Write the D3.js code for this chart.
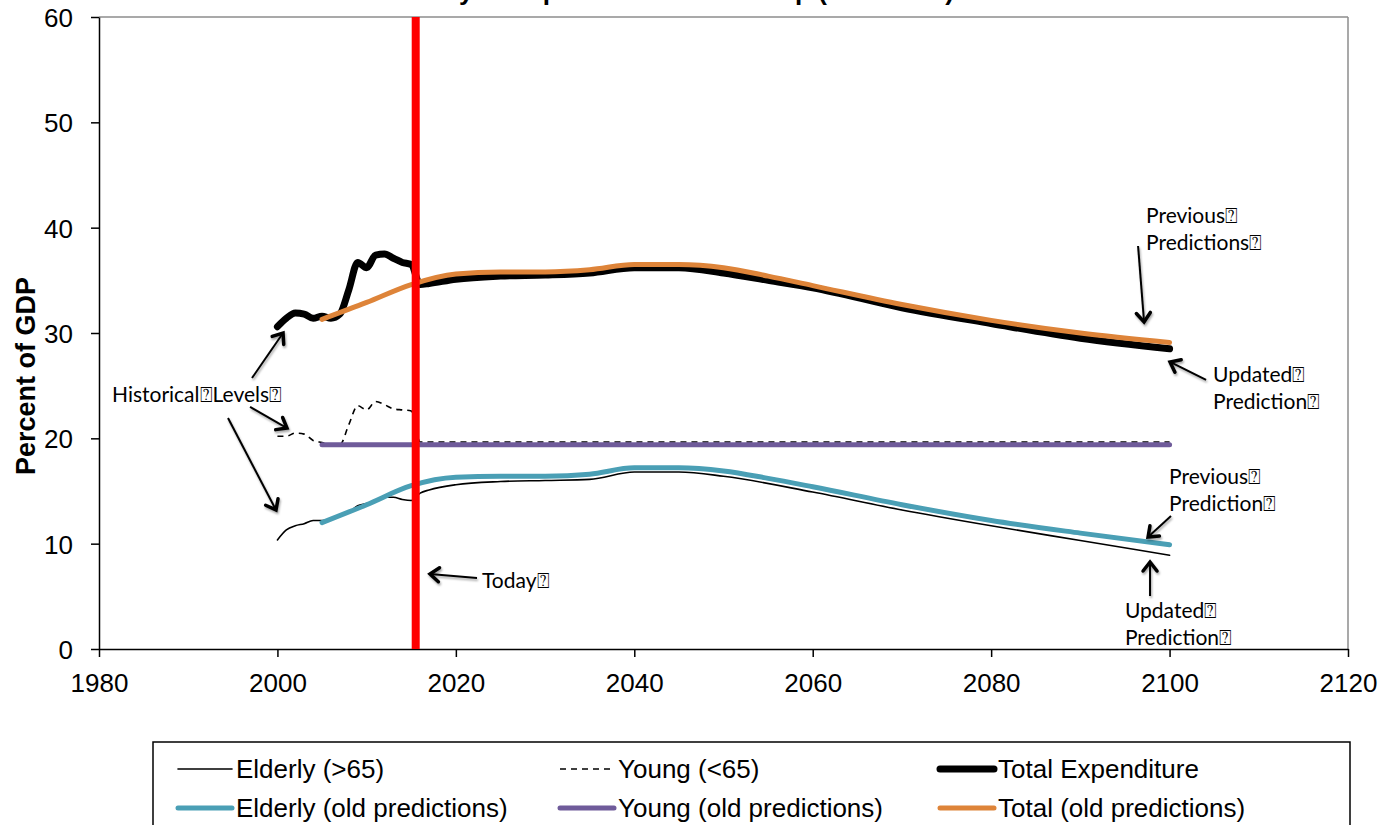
<!DOCTYPE html>
<html><head><meta charset="utf-8">
<script src="https://cdn.jsdelivr.net/npm/d3@7"></script>
<style>
html,body{margin:0;padding:0;background:#fff;}
svg{display:block;}
</style></head>
<body><svg id="c" width="1387" height="825"></svg>
<script>
// ---------- data ----------
const elderlyYears = [2000,2001,2002,2003,2004,2005,2006,2007,2008,2009,2010,2011,2012,2013,2014,2015,2016,2017,2020,2025,2030,2035,2040,2045,2050,2060,2070,2080,2090,2100];
const elderlyValues = [10.35,11.3,11.7,11.9,12.2,12.2,12.3,12.7,13.0,13.6,13.8,14.1,14.4,14.4,14.2,14.1,14.8,15.1,15.6,15.9,16.0,16.1,16.8,16.8,16.4,14.9,13.2,11.7,10.3,8.9];

const youngYears = [2000,2001,2002,2003,2004,2005,2006,2007,2008,2009,2010,2011,2012,2013,2014,2015,2016,2030,2050,2070,2100];
const youngValues = [20.2,20.2,20.5,20.4,19.8,19.6,19.4,19.4,21.3,23.1,22.7,23.5,23.2,22.8,22.7,22.6,19.65,19.65,19.65,19.65,19.65];

const totalYears = [2000,2001,2002,2003,2004,2005,2006,2007,2008,2009,2010,2011,2012,2013,2014,2015,2016,2017,2020,2025,2030,2035,2040,2045,2050,2055,2060,2070,2080,2090,2100];
const totalValues = [30.6,31.4,31.9,31.8,31.4,31.6,31.4,31.8,34.1,36.7,36.2,37.4,37.5,37.1,36.7,36.5,34.6,34.7,35.1,35.4,35.5,35.7,36.2,36.2,35.7,35.0,34.3,32.4,30.9,29.5,28.5];

const oldYears = [2005,2010,2015,2020,2025,2030,2035,2040,2045,2050,2055,2060,2070,2080,2090,2100];
const elderlyOldValues = [12.0,13.7,15.5,16.3,16.4,16.4,16.6,17.2,17.2,16.9,16.2,15.4,13.7,12.2,11.0,9.9];
const youngOldValues = [19.4,19.4,19.4,19.4,19.4,19.4,19.4,19.4,19.4,19.4,19.4,19.4,19.4,19.4,19.4,19.4];
const totalOldValues = [31.3,32.9,34.6,35.6,35.8,35.8,36.0,36.5,36.5,36.2,35.4,34.5,32.7,31.2,30.0,29.1];

const todayYear = 2015.5;
const todayRange = [0, 60];

const xTicks = [1980,2000,2020,2040,2060,2080,2100,2120];
const yTicks = [0,10,20,30,40,50,60];

const legendLabels = ["Elderly (>65)","Young (<65)","Total Expenditure","Elderly (old predictions)","Young (old predictions)","Total (old predictions)"];

const titleText = "Elderly Group and the Total Group (% of GDP)";
const yAxisTitle = "Percent of GDP";

const B = "\u2370"; // missing-glyph box as shown in the original
const annotTexts = [
  {t:["Historical"+B+"Levels"+B], x:1981.46, y:23.45},
  {t:["Today"+B], x:2022.93, y:5.79},
  {t:["Previous"+B,"Predictions"+B], x:2097.36, y:40.44},
  {t:["Updated"+B,"Prediction"+B], x:2104.87, y:25.35},
  {t:["Previous"+B,"Prediction"+B], x:2099.94, y:15.66},
  {t:["Updated"+B,"Prediction"+B], x:2095.0, y:2.95}
];
const annotArrows = [
  [[1997.15,25.73],[2000.63,30.0]],
  [[1996.93,22.98],[2001.07,20.98]],
  [[1994.46,21.93],[1999.84,13.2]],
  [[2022.37,6.74],[2017.1,7.12]],
  [[2096.47,38.26],[2097.14,31.05]],
  [[2104.09,25.54],[2100.05,27.25]],
  [[2100.16,12.63],[2097.59,10.63]],
  [[2097.81,5.03],[2097.81,8.26]]
];

// ---------- layout ----------
const svg = d3.select("#c");
const L = 99, R = 1348, T = 17, Bm = 649;
const x = d3.scaleLinear().domain([1980,2120]).range([L,R]);
const y = d3.scaleLinear().domain([0,60]).range([Bm,T]);
const AX = "'Liberation Sans', Arial, sans-serif";
const AN = "Lato, 'Open Sans', sans-serif";

// title (cut off at the top in the original)
svg.append("text").attr("x",954).attr("y",-0.5).attr("text-anchor","end")
  .attr("font-family",AX).attr("font-weight","bold").attr("font-size",26).text(titleText);

// frame
svg.append("line").attr("x1",L).attr("x2",R).attr("y1",T).attr("y2",T).attr("stroke","#8c8c8c").attr("stroke-width",1.5);
svg.append("line").attr("x1",R).attr("x2",R).attr("y1",T).attr("y2",Bm).attr("stroke","#8c8c8c").attr("stroke-width",1.5);

// axes
const gx = svg.append("g").attr("transform",`translate(0,${Bm})`)
  .call(d3.axisBottom(x).tickValues(xTicks).tickFormat(d3.format("d")).tickSize(8).tickPadding(10).tickSizeOuter(0));
const gy = svg.append("g").attr("transform",`translate(${L},0)`)
  .call(d3.axisLeft(y).tickValues(yTicks).tickSize(8).tickPadding(18).tickSizeOuter(0));
[gx,gy].forEach(g=>{
  g.selectAll("path,line").attr("stroke","#000").attr("stroke-width",1.5);
  g.selectAll("text").attr("font-family",AX).attr("font-size",26).attr("fill","#000");
});
gx.selectAll("text").attr("dy","0.95em");
gy.selectAll("text").attr("dy","0.36em");

svg.append("text").attr("transform",`translate(35,376) rotate(-90)`).attr("text-anchor","middle")
  .attr("font-family",AX).attr("font-weight","bold").attr("font-size",27).text(yAxisTitle);

// lines
const mk = (xs, vs) => xs.map((d,i)=>[d, vs[i]]);
const line = d3.line().x(d=>x(d[0])).y(d=>y(d[1])).curve(d3.curveMonotoneX);
const plot = svg.append("g");
function draw(data, color, w, dash){
  const p = plot.append("path").datum(data).attr("d",line).attr("fill","none")
    .attr("stroke",color).attr("stroke-width",w).attr("stroke-linejoin","round").attr("stroke-linecap","round");
  if (dash) p.attr("stroke-dasharray",dash).attr("stroke-linecap","butt");
}
const cElderOld = "#4a9fb5", cYoungOld = "#6f5b9a", cTotalOld = "#de8439";
draw(mk(elderlyYears,elderlyValues),"#000",1.6);
draw(mk(youngYears,youngValues),"#000",1.6,"6,5");
draw(mk(totalYears,totalValues),"#000",7);
draw(mk(oldYears,elderlyOldValues),cElderOld,5);
draw(mk(oldYears,youngOldValues),cYoungOld,5);
draw(mk(oldYears,totalOldValues),cTotalOld,5);

// today line
plot.append("line").attr("x1",x(todayYear)).attr("x2",x(todayYear))
  .attr("y1",y(todayRange[0])).attr("y2",y(todayRange[1]))
  .attr("stroke","#ff0000").attr("stroke-width",8);

// annotations
const defs = svg.append("defs");
defs.append("marker").attr("id","ah").attr("viewBox","-12 -10 16 20").attr("refX",0).attr("refY",0)
  .attr("markerWidth",16).attr("markerHeight",20).attr("markerUnits","userSpaceOnUse").attr("orient","auto")
  .append("path").attr("d","M-9,-7 L0,0 L-9,7").attr("fill","none").attr("stroke","#000")
  .attr("stroke-width",3.5).attr("stroke-linecap","round").attr("stroke-linejoin","miter");
defs.append("filter").attr("id","sh").attr("filterUnits","userSpaceOnUse")
  .attr("x",0).attr("y",0).attr("width",1387).attr("height",825)
  .append("feDropShadow").attr("dx",1).attr("dy",2).attr("stdDeviation",1.2).attr("flood-opacity",0.35);
const ann = svg.append("g").attr("filter","url(#sh)");
annotArrows.forEach(a=>{
  ann.append("path").attr("d",`M${x(a[0][0])},${y(a[0][1])}L${x(a[1][0])},${y(a[1][1])}`)
    .attr("fill","none").attr("stroke","#000").attr("stroke-width",2).attr("marker-end","url(#ah)");
});
const annT = svg.append("g");
annotTexts.forEach(a=>{
  const t = annT.append("text").attr("x",x(a.x)).attr("y",y(a.y)).attr("font-family",AN).attr("font-size",21).attr("fill","#000");
  a.t.forEach((s,i)=>t.append("tspan").attr("x",x(a.x)).attr("dy",i?27:0).text(s));
});

// legend
const lg = svg.append("g");
lg.append("rect").attr("x",153).attr("y",742).attr("width",1197).attr("height",110).attr("fill","#fff").attr("stroke","#000").attr("stroke-width",1.5);
const colX = [178,560,940], rowY = [769,808];
const legStyles = [
  {c:"#000",w:1.6},{c:"#000",w:1.6,d:"6,5"},{c:"#000",w:7},
  {c:cElderOld,w:5},{c:cYoungOld,w:5},{c:cTotalOld,w:5}
];
legendLabels.forEach((lab,i)=>{
  const cx = colX[i%3], cy = rowY[Math.floor(i/3)], s = legStyles[i];
  const l = lg.append("line").attr("x1",cx).attr("x2",cx+54).attr("y1",cy).attr("y2",cy)
    .attr("stroke",s.c).attr("stroke-width",s.w).attr("stroke-linecap",s.d?"butt":"round");
  if (s.d) l.attr("stroke-dasharray",s.d);
  lg.append("text").attr("x",cx+58).attr("y",cy).attr("dy","0.36em").attr("font-family",AX).attr("font-size",26).text(lab);
});
</script></body></html>
